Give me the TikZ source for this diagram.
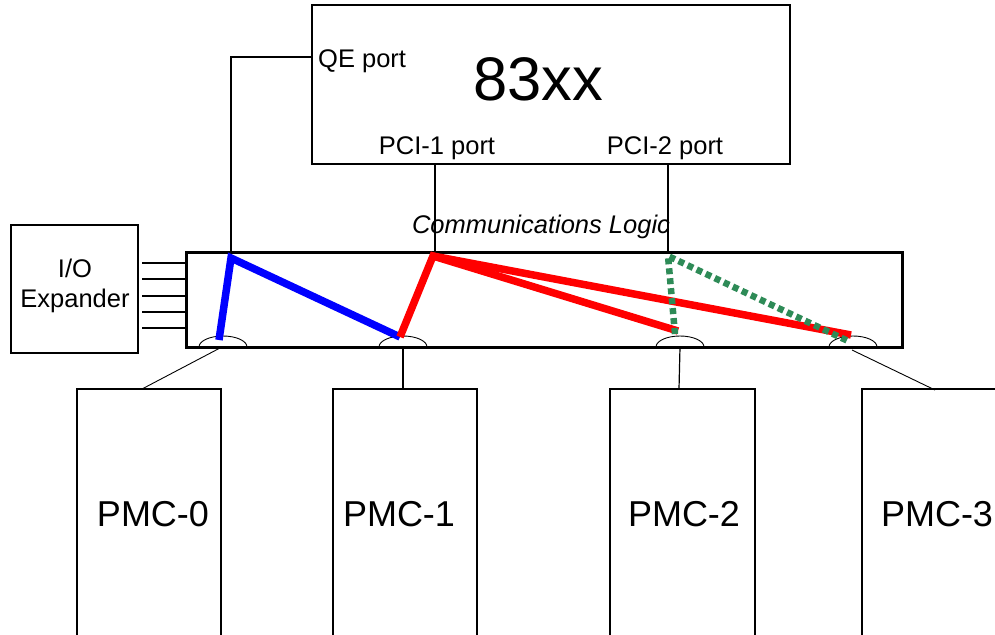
\documentclass[tikz,border=0pt]{standalone}
\usepackage{fontspec}
\setmainfont{Liberation Sans}
\definecolor{linkblue}{RGB}{0,0,255}
\definecolor{linkred}{RGB}{255,0,0}
\definecolor{linkgreen}{RGB}{46,139,87}
\begin{document}
\begin{tikzpicture}[x=1pt,y=-1pt,
  box/.style={draw,line width=2pt,rectangle,inner sep=0pt},
  lbl/.style={inner sep=0pt,font=\fontsize{25.5}{28}\selectfont},
  big/.style={inner sep=0pt,font=\fontsize{36}{40}\selectfont},
  wire/.style={line width=1.2pt},
  thin/.style={line width=0.9pt},
  port/.style={line width=0.9pt},
  blue path/.style={linkblue,line width=7.5pt},
  red path/.style={linkred,line width=7.5pt},
  green path/.style={linkgreen,line width=6.5pt,dash pattern=on 6pt off 4pt}]
\useasboundingbox (0,0) rectangle (995,634);
\clip (0,0) rectangle (995,634);

% processor
\node[box,minimum width=478pt,minimum height=159pt] (cpu) at (551,84.5) {};
\node[inner sep=0pt,font=\fontsize{61.5}{64}\selectfont] (name) at (538,79) {83xx};
\node[lbl,anchor=west] (qe) at (318,61) {QE port};
\node[lbl] (pci1) at (437,148) {PCI-1 port};
\node[lbl] (pci2) at (665,148) {PCI-2 port};

% communications logic
\node[draw,line width=3pt,rectangle,minimum width=716pt,minimum height=95pt,inner sep=0pt] (comm) at (544,299.5) {};
\node[lbl,font=\fontsize{25.5}{28}\selectfont\itshape] (commlbl) at (541,227) {Communications Logic};

% I/O expander
\node[box,minimum width=127pt,minimum height=128pt] (io) at (74.5,289) {};
\node[lbl,align=center,font=\fontsize{25.5}{30}\selectfont] (iolbl) at (75,286) {I/O\\Expander};
\foreach \yy [count=\k] in {263,279,296,312,328}{
  \coordinate (ioa\k) at (142,\yy);
  \coordinate (iob\k) at (188,\yy);
  \draw[wire] (ioa\k) -- (iob\k);
}

% PMC slots (running off the bottom edge)
\node[box,minimum width=144pt,minimum height=280pt] (pmc0) at (149,529) {};
\node[box,minimum width=144pt,minimum height=280pt] (pmc1) at (405,529) {};
\node[box,minimum width=145pt,minimum height=280pt] (pmc2) at (682.5,529) {};
\node[box,minimum width=144pt,minimum height=280pt] (pmc3) at (934,529) {};
\node[big] (pmc0lbl) at (153,514) {PMC-0};
\node[big] (pmc1lbl) at (399,514) {PMC-1};
\node[big] (pmc2lbl) at (684,514) {PMC-2};
\node[big] (pmc3lbl) at (937,514) {PMC-3};

% sockets on the lower edge of the logic block
\foreach \cx [count=\k] in {223,403,680,853}{
  \coordinate (sock\k) at (\cx,347);
  \draw[port] (\cx-24,347) arc[start angle=180,end angle=360,x radius=24,y radius=11];
}

% processor ports into the logic block
\coordinate (qebend) at (231,57);
\coordinate (qein) at (231,253);
\draw[wire] (cpu.west |- qebend) -- (qebend) -- (qein);
\coordinate (p1top) at (435,164);
\coordinate (p1in) at (435,253);
\draw[wire] (p1top) -- (p1in);
\coordinate (p2top) at (668,164);
\coordinate (p2in) at (668,253);
\draw[wire] (p2top) -- (p2in);

% sockets to PMC slots
\coordinate (s0) at (220,348);
\coordinate (t0) at (142,389);
\draw[thin] (s0) -- (t0);
\coordinate (t1) at (403,389);
\draw[wire] (sock2) -- (t1);
\coordinate (t2) at (679,389);
\draw[wire] (sock3) -- (t2);
\coordinate (s3) at (852,350);
\coordinate (t3) at (935,390);
\draw[thin] (s3) -- (t3);

% routing paths
\coordinate (b1) at (219,340);
\coordinate (b2) at (231,258);
\coordinate (b3) at (400,337);
\draw[blue path,line join=miter] (b1) -- (b2) -- (b3);

\coordinate (r1) at (433,256);
\coordinate (r2) at (678,331);
\coordinate (r3) at (851,335);
\draw[red path] (b3) -- (r1) -- (r2);
\draw[red path] (r1) -- (r3);

\coordinate (g1) at (668,256);
\coordinate (g2) at (675,334);
\coordinate (g3) at (848,341);
\draw[green path] (g2) -- (g1) -- (g3);
\end{tikzpicture}
\end{document}
